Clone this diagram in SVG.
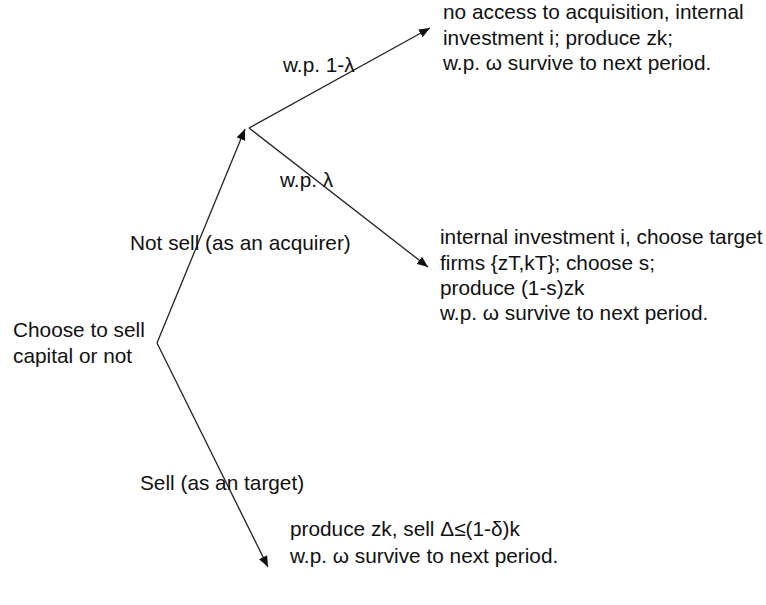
<svg xmlns="http://www.w3.org/2000/svg" width="766" height="605" viewBox="0 0 766 605">
<style>
text{font-family:"Liberation Sans",Arial,sans-serif;font-size:20.8px;fill:#111}
.edge{stroke:#222;stroke-width:1.3;fill:none;marker-end:url(#ah)}
</style>
<defs>
<marker id="ah" markerUnits="userSpaceOnUse" markerWidth="12" markerHeight="9" refX="11" refY="4.5" orient="auto">
<path d="M0,0 L11,4.5 L0,9 z" fill="#111"/>
</marker>
</defs>
<rect width="766" height="605" fill="#fff"/>
<g id="connectors">
<line class="edge" x1="157" y1="343" x2="245" y2="129"/>
<line class="edge" x1="249" y1="128" x2="430" y2="28"/>
<line class="edge" x1="249" y1="128" x2="428" y2="267"/>
<line class="edge" x1="157" y1="343" x2="268" y2="567"/>
<text x="283" y="72">w.p. 1-λ</text>
<text x="280" y="187">w.p. λ</text>
<text x="130" y="250">Not sell (as an acquirer)</text>
<text x="140" y="490">Sell (as an target)</text>
</g>
<g id="root">
<text x="13" y="337">Choose to sell</text>
<text x="13" y="363">capital or not</text>
</g>
<g id="no-access">
<text x="443" y="19">no access to acquisition, internal</text>
<text x="443" y="45">investment i; produce zk;</text>
<text x="443" y="70">w.p. ω survive to next period.</text>
</g>
<g id="acquire">
<text x="440" y="244">internal investment i, choose target</text>
<text x="440" y="270">firms {zT,kT}; choose s;</text>
<text x="440" y="295">produce (1-s)zk</text>
<text x="440" y="320">w.p. ω survive to next period.</text>
</g>
<g id="sell">
<text x="290" y="536">produce zk, sell Δ≤(1-δ)k</text>
<text x="290" y="563">w.p. ω survive to next period.</text>
</g>
</svg>
